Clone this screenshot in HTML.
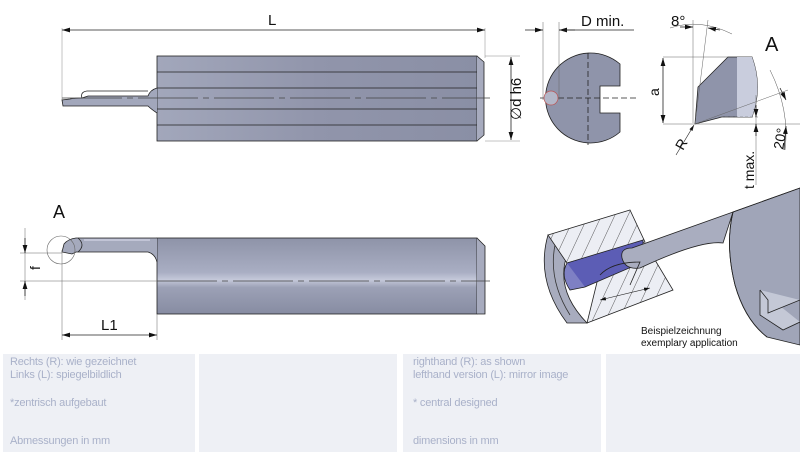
<!DOCTYPE html>
<html><head><meta charset="utf-8"><style>
html,body{margin:0;padding:0;background:#fff;width:800px;height:457px;overflow:hidden}
svg{display:block}
.box{position:absolute;background:#eef0f5;top:354px;height:98px}
.t{position:absolute;font-family:"Liberation Sans",sans-serif;font-size:11px;color:#a9b1c9;line-height:13px;letter-spacing:-0.2px}
</style></head><body>
<svg width="800" height="457" viewBox="0 0 800 457" xmlns="http://www.w3.org/2000/svg" font-family="Liberation Sans, sans-serif">
<defs>
<linearGradient id="g" x1="0" y1="0" x2="1" y2="0">
<stop offset="0" stop-color="#a2a7bb"/><stop offset="0.5" stop-color="#9195ab"/><stop offset="1" stop-color="#8a8fa5"/>
</linearGradient>
<linearGradient id="gv" x1="0" y1="0" x2="0" y2="1">
<stop offset="0" stop-color="#8e93a8"/><stop offset="0.45" stop-color="#a9aec3"/><stop offset="0.55" stop-color="#c5c9da"/><stop offset="0.65" stop-color="#9ca1b6"/><stop offset="1" stop-color="#878ca2"/>
</linearGradient>
<pattern id="hatch" width="12" height="12" patternUnits="userSpaceOnUse" patternTransform="rotate(25)">
<rect width="12" height="12" fill="#eceef4"/><line x1="0" y1="0" x2="0" y2="12" stroke="#333" stroke-width="0.8"/>
</pattern>
<marker id="ar" viewBox="0 0 10 6" refX="10" refY="3" markerWidth="10" markerHeight="6" orient="auto-start-reverse"><path d="M0,0 L10,3 L0,6z" fill="#111"/></marker>
</defs>
<g stroke="#222" stroke-width="0.8" fill="none">
<!-- top tool -->
<line x1="62" y1="28" x2="62" y2="100" stroke="#888" stroke-width="0.5"/>
<line x1="485" y1="28" x2="485" y2="58" stroke="#888" stroke-width="0.5"/>
<line x1="62" y1="30" x2="485" y2="30" marker-start="url(#ar)" marker-end="url(#ar)"/>
<rect x="157" y="56" width="320" height="85" fill="url(#g)"/>
<path d="M477,56 L484,62 L484,135 L477,141" fill="#a7abbe"/>
<line x1="157" y1="72" x2="477" y2="72"/><line x1="157" y1="88" x2="477" y2="88"/>
<line x1="157" y1="109" x2="477" y2="109"/><line x1="157" y1="125" x2="477" y2="125"/>
<path d="M157,88 Q150,90 148,96 L88,96 L82,98 Q75,98 70,99 L62,100 L63,106 L148,106 Q151,109 157,113" fill="#a2a7bb"/>
<path d="M82,98 Q80,92 87,91 L148,91" fill="none"/>
<line x1="62" y1="98" x2="490" y2="98" stroke="#444" stroke-dasharray="60,5,6,5"/>
<line x1="485" y1="56" x2="520" y2="56" stroke="#888" stroke-width="0.5"/>
<line x1="485" y1="141" x2="520" y2="141" stroke="#888" stroke-width="0.5"/>
<line x1="511" y1="57" x2="511" y2="140" marker-start="url(#ar)" marker-end="url(#ar)"/>
<!-- end view -->
<path d="M620,64 A45,45 0 1 0 620,132 L620,113 L600,113 L600,86 L620,86 Z" fill="#8f94aa"/>
<line x1="588" y1="53" x2="588" y2="145" stroke-dasharray="6,3"/>
<line x1="540" y1="98" x2="636" y2="98" stroke-dasharray="6,3"/>
<circle cx="551" cy="98" r="7" fill="#b3b7c8" stroke="#b55" stroke-width="0.7"/>
<line x1="543" y1="22" x2="543" y2="100" stroke="#666" stroke-width="0.5"/>
<line x1="559" y1="22" x2="559" y2="100" stroke="#666" stroke-width="0.5"/>
<line x1="525" y1="30" x2="543" y2="30" marker-end="url(#ar)"/>
<line x1="575" y1="30" x2="559" y2="30" marker-end="url(#ar)"/>
<line x1="559" y1="30" x2="634" y2="30"/>
<!-- detail A -->
<path d="M728,57 L752,57 Q763,87 752,117 L722,117 L695,124 L698,87 Z" fill="#8f94aa"/>
<path d="M737,57 L752,57 Q763,87 752,117 L737,117 Z" fill="#c9cddd" stroke="none"/>
<line x1="663" y1="57" x2="728" y2="57" stroke="#666" stroke-width="0.5"/>
<line x1="663" y1="124" x2="800" y2="124" stroke="#666" stroke-width="0.5"/>
<line x1="663" y1="58" x2="663" y2="123" marker-start="url(#ar)" marker-end="url(#ar)"/>
<line x1="693" y1="20" x2="693" y2="123" stroke="#666" stroke-width="0.5"/>
<line x1="695" y1="124" x2="708" y2="20" stroke="#666" stroke-width="0.5"/>
<path d="M670,28 Q700,18 732,34" stroke="#555" stroke-width="0.5"/>
<line x1="680" y1="27" x2="693" y2="27" marker-end="url(#ar)"/>
<line x1="720" y1="30" x2="708" y2="28" marker-end="url(#ar)"/>
<line x1="695" y1="124" x2="788" y2="90" stroke="#666" stroke-width="0.5"/>
<path d="M770,70 Q790,110 785,150" stroke="#555" stroke-width="0.5"/>
<line x1="780" y1="88" x2="786" y2="100" marker-end="url(#ar)"/>
<line x1="784" y1="150" x2="786" y2="126" marker-end="url(#ar)"/>
<line x1="676" y1="155" x2="694" y2="125" marker-end="url(#ar)" stroke-width="0.6"/>
<line x1="756" y1="95" x2="756" y2="185" stroke="#666" stroke-width="0.5"/>
<line x1="720" y1="117" x2="760" y2="117" stroke="#666" stroke-width="0.5" stroke-dasharray="3,2"/>
<line x1="756" y1="105" x2="756" y2="117" marker-end="url(#ar)"/>
<line x1="756" y1="136" x2="756" y2="124" marker-end="url(#ar)"/>
<!-- bottom tool -->
<rect x="157" y="238" width="320" height="76" fill="url(#gv)"/>
<path d="M477,238 L485,246 L485,314 L477,314" fill="#a7abbe"/>
<path d="M157,238 L76,238 Q68,239 64,244 L62,252 L72,254 L76,252 L148,252 Q155,254 157,262" fill="#a5aabd"/>
<path d="M78,238 Q86,245 78,252" />
<line x1="84" y1="240" x2="150" y2="240" stroke="#dde" stroke-width="1"/>
<circle cx="61" cy="250" r="14" stroke="#666" stroke-width="0.6"/>
<line x1="62" y1="250" x2="62" y2="340" stroke="#666" stroke-width="0.5"/>
<line x1="157" y1="314" x2="157" y2="340" stroke="#666" stroke-width="0.5"/>
<line x1="62" y1="335" x2="157" y2="335" marker-start="url(#ar)" marker-end="url(#ar)"/>
<line x1="20" y1="253" x2="62" y2="253" stroke="#666" stroke-width="0.5"/>
<line x1="20" y1="281" x2="157" y2="281" stroke="#666" stroke-width="0.5"/>
<line x1="25" y1="228" x2="25" y2="300" stroke="#666" stroke-width="0.5"/>
<line x1="25" y1="238" x2="25" y2="253" marker-end="url(#ar)"/>
<line x1="25" y1="296" x2="25" y2="281" marker-end="url(#ar)"/>
<line x1="157" y1="281" x2="490" y2="281" stroke="#444" stroke-dasharray="60,5,6,5"/>
<!-- 3D example: big shank -->
<path d="M733,212 L800,188 L800,345 L767,337 Q745,320 735,285 Q725,245 733,212 Z" fill="#a0a5b8"/>
<path d="M733,212 Q725,245 735,285 Q745,320 767,337" />
<path d="M733,212 L800,188"/>
<path d="M760,290 L768,300 L768,313 L800,300 M760,290 L760,315 L783,330 L800,322" fill="#c4c8d6"/>
<!-- workpiece lower block -->
<path d="M587,323 L673,290 L655,260 L600,270 Z" fill="url(#hatch)"/>
<!-- workpiece front ring -->
<path d="M548,235 Q535,280 567,323 L587,323 Q555,290 567,255 Z" fill="#a8acbe"/>
<path d="M555,245 Q548,280 570,315" stroke="#333"/>
<!-- upper block -->
<path d="M548,235 L630,210 L645,242 L567,263 Z" fill="url(#hatch)"/>
<!-- purple bore -->
<path d="M567,263 L643,240 L643,262 L585,287 Q572,290 567,280 Z" fill="#5c5db5"/>
<path d="M567,263 Q560,275 570,290 L585,287" fill="#7e80c4"/>
<!-- tool bar -->
<path d="M632,248 L733,212 L723,243 Q700,240 640,268 Q625,270 622,258 Q620,248 632,248 Z" fill="#a9adbf"/>
<path d="M600,275 Q612,262 640,262 L630,285" stroke="#222"/>
<line x1="600" y1="300" x2="650" y2="288" stroke="#222" marker-start="url(#ar)" marker-end="url(#ar)" stroke-width="0.6"/>
</g>
<g font-size="15" fill="#111">
<text x="268" y="25">L</text>
<text x="581" y="26">D min.</text>
<text x="671" y="26">8°</text>
<text x="765" y="51" font-size="20">A</text>
<text x="53" y="218" font-size="18">A</text>
<text x="101" y="330">L1</text>
<text transform="translate(521,120) rotate(-90)">∅d h6</text>
<text transform="translate(659,96) rotate(-90)" font-size="14">a</text>
<text transform="translate(683,151) rotate(-60)" font-size="14">R</text>
<text transform="translate(754,189) rotate(-90)" font-size="14">t max.</text>
<text transform="translate(783,150) rotate(-80)" font-size="14">20°</text>
<text transform="translate(40,270) rotate(-90)" font-size="14">f</text>
<text x="641" y="334" font-size="10">Beispielzeichnung</text>
<text x="641" y="346" font-size="10">exemplary application</text>
</g>
</svg>
<div class="box" style="left:3px;width:192px"></div>
<div class="box" style="left:199px;width:198px"></div>
<div class="box" style="left:403px;width:198px"></div>
<div class="box" style="left:606px;width:194px"></div>
<div class="t" style="left:10px;top:356px">Rechts (R): wie gezeichnet<br>Links (L): spiegelbildlich</div>
<div class="t" style="left:10px;top:397px">*zentrisch aufgebaut</div>
<div class="t" style="left:10px;top:435px">Abmessungen in mm</div>
<div class="t" style="left:413px;top:356px">righthand (R): as shown<br>lefthand version (L): mirror image</div>
<div class="t" style="left:413px;top:397px">* central designed</div>
<div class="t" style="left:413px;top:435px">dimensions in mm</div>
</body></html>
